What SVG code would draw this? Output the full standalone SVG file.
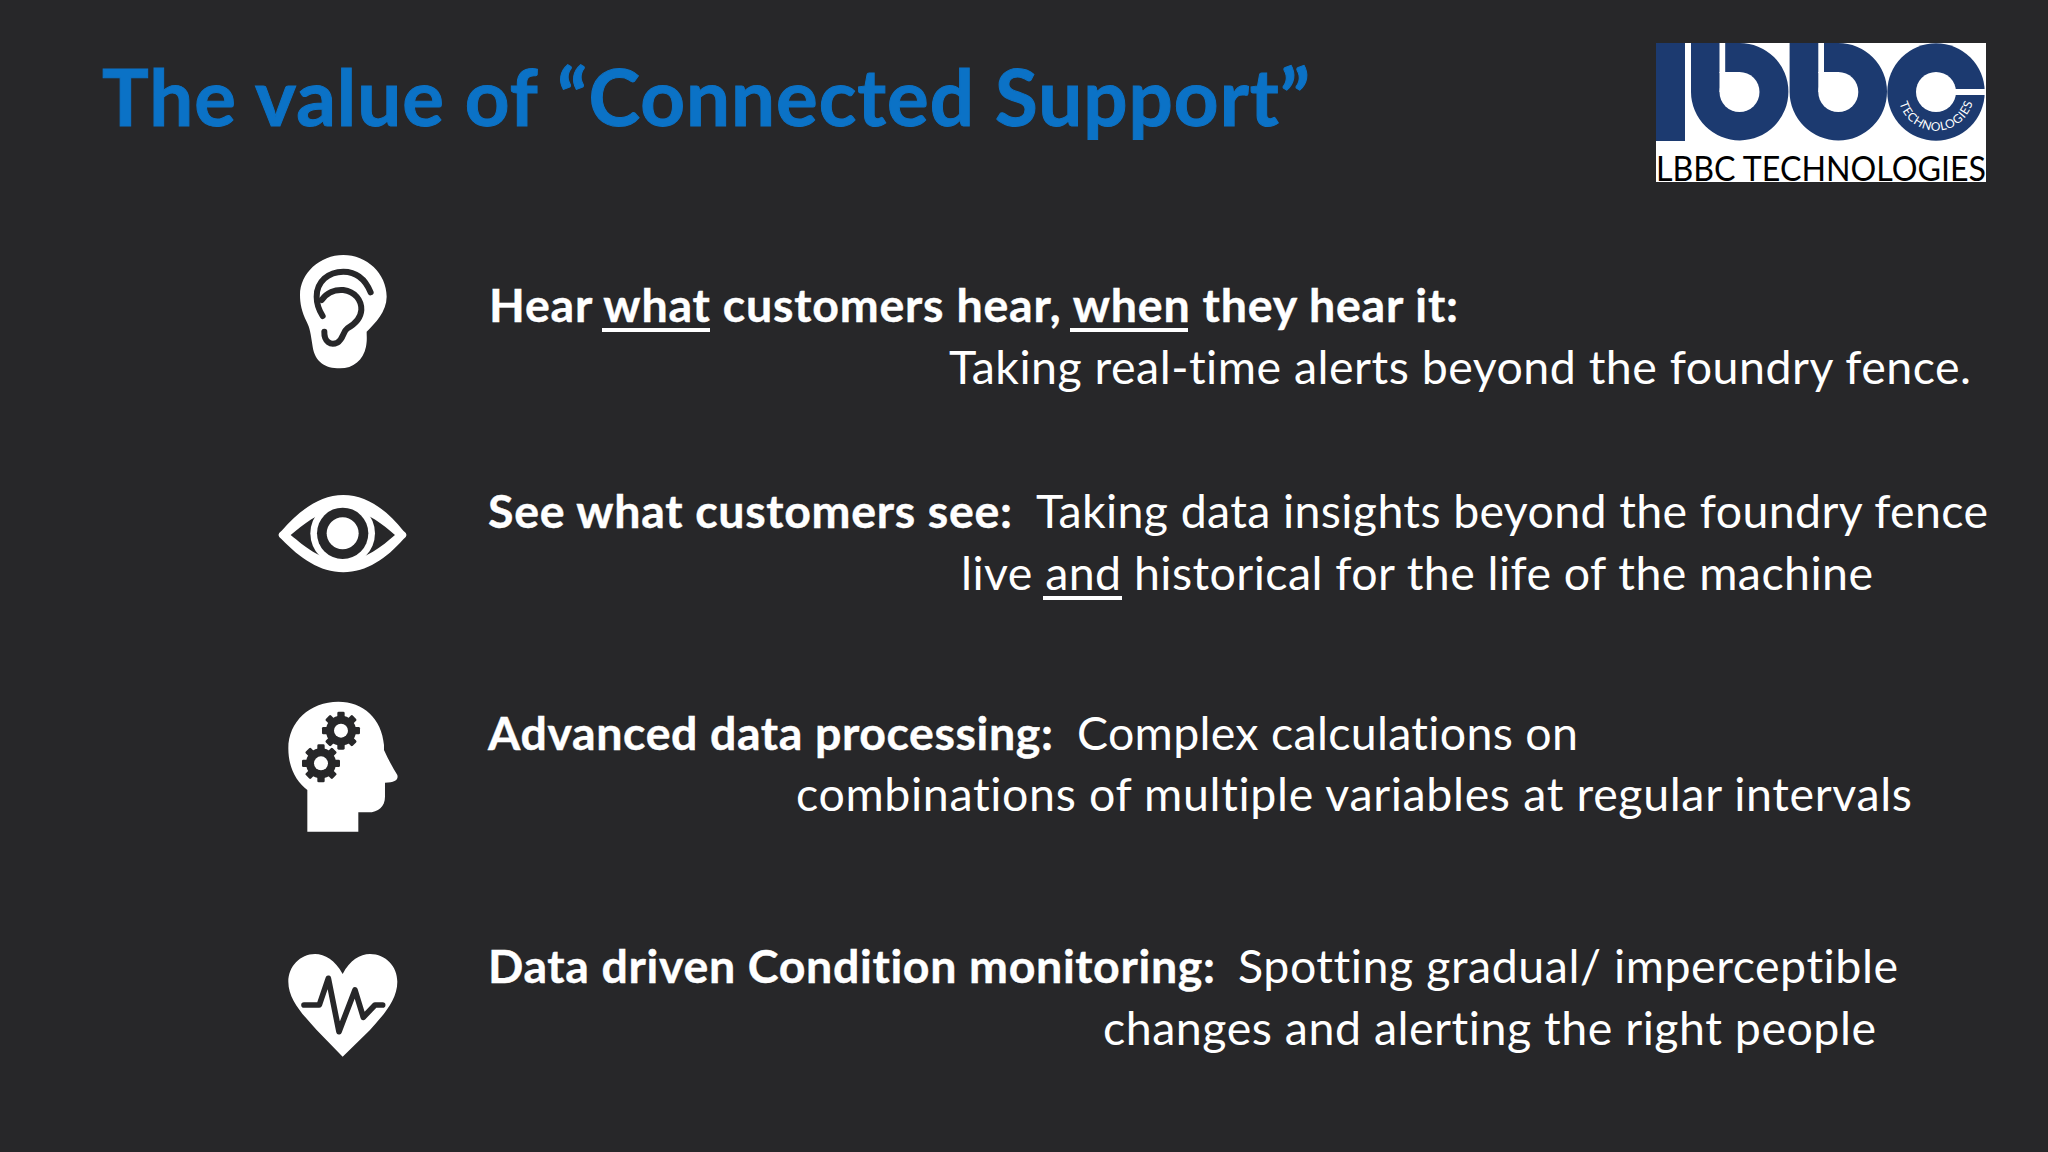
<svg xmlns="http://www.w3.org/2000/svg" xmlns:xlink="http://www.w3.org/1999/xlink" width="2048" height="1152" viewBox="0 0 2048 1152">
<style>
text{font-family:"Lato","Open Sans","Liberation Sans",sans-serif;font-variant-ligatures:none}
.t{font-size:46.5px;fill:#fff}
.b{font-weight:700;stroke:#fff;stroke-width:.4px}
.title{font-size:78px;font-weight:700;fill:#0b72c6;stroke:#0b72c6;stroke-width:1px}
.w{fill:#fff}
.d{fill:#272729}
.ds{fill:none;stroke:#272729;stroke-linecap:round;stroke-linejoin:round}
.lb{fill:#1c3a70}
</style>
<defs>
<g id="gear" class="d">
<circle r="45"/>
<rect x="-11" y="-57" width="22" height="114" rx="4"/>
<rect x="-11" y="-57" width="22" height="114" rx="4" transform="rotate(45)"/>
<rect x="-11" y="-57" width="22" height="114" rx="4" transform="rotate(90)"/>
<rect x="-11" y="-57" width="22" height="114" rx="4" transform="rotate(135)"/>
<circle r="21" class="w"/>
</g>
</defs>
<rect width="2048" height="1152" class="d"/>
<text id="title" class="title" x="102" y="126" textLength="1208">The value of “Connected Support”</text>
<g id="logo">
<rect x="1656" y="43" width="330" height="139" class="w"/>
<rect x="1656" y="43" width="29" height="98" class="lb"/>
<path class="lb" d="M1691,43H1739.5A48.7,48.7 0 1 1 1691,92Z"/>
<circle class="w" cx="1739.5" cy="92" r="20"/>
<rect x="1719.5" y="72" width="20" height="20" class="w"/>
<rect x="1719.5" y="43" width="5.7" height="30" class="w"/>
<path class="lb" d="M1789.6,43H1838.3A48.7,48.7 0 1 1 1789.6,92Z"/>
<circle class="w" cx="1838.3" cy="92" r="20"/>
<rect x="1818.3" y="72" width="20" height="20" class="w"/>
<rect x="1818.3" y="43" width="5.7" height="30" class="w"/>
<circle class="lb" cx="1936" cy="92" r="48.7"/>
<circle class="w" cx="1936" cy="92" r="20"/>
<rect x="1936" y="89" width="50" height="6" class="w"/>
<path id="arc" fill="none" d="M1899.5,103.4A38,38 0 0 0 1972.5,103.4"/>
<text font-size="12" fill="#fff" textLength="98"><textPath xlink:href="#arc" href="#arc">TECHNOLOGIES</textPath></text>
<text x="1656" y="181" font-size="35" fill="#000" textLength="330" lengthAdjust="spacingAndGlyphs">LBBC TECHNOLOGIES</text>
</g>
<g id="ear" transform="translate(260,240) scale(.3333)">
<path class="w" d="M250,45C320,45 380,100 380,170C380,215 345,250 320,275C320,290 322,300 318,320C310,360 280,385 240,385C195,385 165,365 158,320C152,280 150,265 140,245C125,215 120,190 120,165C120,100 180,45 250,45Z"/>
<path class="ds" stroke-width="18" d="M332,157C315,115 285,95 250,95C205,95 170,125 170,170C170,195 178,212 188,228"/>
<path class="ds" stroke-width="18" d="M185,180C200,158 225,148 250,150C285,155 305,180 304,210C302,240 280,255 262,265C248,275 252,295 232,308C212,318 192,305 193,275"/>
</g>
<g id="eye" transform="translate(260,240) scale(.3333)">
<path class="w" d="M65,872C120,810 180,765 250,765C320,765 380,810 430,872Q449,885 430,898C380,955 320,997 250,997C180,997 120,955 65,898Q46,885 65,872Z"/>
<path class="d" d="M92,885C135,850 175,815 250,800C320,815 365,850 405,885C365,920 320,955 250,970C175,955 135,920 92,885Z"/>
<circle class="w" cx="248" cy="880" r="97"/>
<circle class="d" cx="248" cy="880" r="77"/>
<circle class="w" cx="248" cy="880" r="48"/>
</g>
<g id="head" transform="translate(260,680) scale(.3333)">
<path class="w" d="M142,455V330C110,305 85,265 85,205C85,125 150,65 235,65C310,65 365,115 372,195V210C385,240 400,265 412,285C416,300 405,308 375,308V350C375,380 355,397 325,397H295V455Z"/>
<use href="#gear" xlink:href="#gear" transform="translate(243,152)"/>
<use href="#gear" xlink:href="#gear" transform="translate(183,250)"/>
</g>
<g id="heart" transform="translate(260,680) scale(.3333)">
<path class="w" d="M248,882C225,840 195,822 165,822C120,822 85,860 85,905C85,960 130,1005 170,1050L248,1130L330,1050C370,1005 412,960 412,905C412,860 378,822 330,822C300,822 270,840 248,882Z"/>
<path class="ds" stroke-width="17" d="M132,975H178L205,895L237,1055L285,930L310,1012L345,975H368"/>
</g>
<g id="item1">
<text class="t b" x="489" y="322" textLength="969">Hear what customers hear, when they hear it:</text>
<rect class="w" x="602" y="328" width="108" height="4"/>
<rect class="w" x="1070" y="328" width="118" height="4"/>
<text class="t" x="949" y="384" textLength="1022">Taking real-time alerts beyond the foundry fence.</text>
</g>
<g id="item2">
<text class="t b" x="488" y="528" textLength="524">See what customers see:</text>
<text class="t" x="1036" y="528" textLength="952">Taking data insights beyond the foundry fence</text>
<text class="t" x="961" y="590" textLength="912">live and historical for the life of the machine</text>
<rect class="w" x="1043" y="596" width="79" height="4"/>
</g>
<g id="item3">
<text class="t b" x="488" y="750" textLength="565">Advanced data processing:</text>
<text class="t" x="1077" y="750" textLength="501">Complex calculations on</text>
<text class="t" x="796" y="811" textLength="1116">combinations of multiple variables at regular intervals</text>
</g>
<g id="item4">
<text class="t b" x="488" y="983" textLength="727">Data driven Condition monitoring:</text>
<text class="t" x="1238" y="983" textLength="660">Spotting gradual/ imperceptible</text>
<text class="t" x="1103" y="1045" textLength="773">changes and alerting the right people</text>
</g>
</svg>
